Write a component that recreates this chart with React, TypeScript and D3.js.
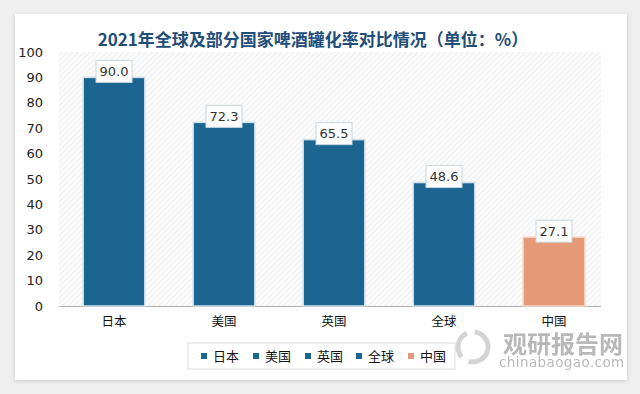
import React from 'react'
import * as d3 from 'd3'

const categories = ['日本', '美国', '英国', '全球', '中国']
const values = [90.0, 72.3, 65.5, 48.6, 27.1]
const yTicks = [0, 10, 20, 30, 40, 50, 60, 70, 80, 90, 100]
const title = '2021年全球及部分国家啤酒罐化率对比情况（单位：%）'

const W = 640
const H = 394
const plot = { left: 59, right: 609, top: 52, bottom: 306 }
const blue = '#1b6590'
const orange = '#e59a77'

const App = () => {
  const x = d3.scaleBand().domain(categories).range([plot.left, plot.right])
    .paddingInner(0.44).paddingOuter(0.22)
  const y = d3.scaleLinear().domain([0, 100]).range([plot.bottom, plot.top])
  const colorOf = (c: string) => (c === '中国' ? orange : blue)
  const legendX = [201, 253, 305, 356, 408]

  return (
    <svg width={W} height={H} style={{ position: 'absolute', left: 0, top: 0 }}
      fontFamily="'DejaVu Sans', 'Noto Sans CJK SC', sans-serif">
      <defs>
        <pattern id="hatch" width="4" height="4" patternUnits="userSpaceOnUse" patternTransform="rotate(45)">
          <rect width="4" height="4" fill="#fbfbfb" />
          <line x1="0" y1="0" x2="0" y2="4" stroke="#e6e6e6" strokeWidth="1.2" />
        </pattern>
        <filter id="shadow" x="-5%" y="-5%" width="110%" height="110%">
          <feDropShadow dx="0" dy="1" stdDeviation="2" floodColor="#000" floodOpacity="0.15" />
        </filter>
      </defs>
      <rect width={W} height={H} fill="#efefef" />
      <rect x={15} y={14} width={612} height={366} fill="#fff" filter="url(#shadow)" />
      <text x={313} y={46} textAnchor="middle" fontSize={17} fontWeight="bold" fill="#1f4e79"
        fontFamily="'Noto Sans CJK SC', serif">{title}</text>

      <rect x={plot.left} y={plot.top} width={plot.right - plot.left - 8} height={plot.bottom - plot.top} fill="url(#hatch)" />
      <line x1={plot.left} x2={plot.right - 8} y1={plot.bottom + 0.5} y2={plot.bottom + 0.5} stroke="#b0b0b0" />

      {yTicks.map(t => (
        <text key={t} x={43} y={y(t)} dy="0.35em" textAnchor="end" fontSize={13} fill="#222">{t}</text>
      ))}

      {categories.map((c, i) => {
        const bx = x(c)!
        const bw = x.bandwidth()
        const top = y(values[i])
        const cx = bx + bw / 2
        return (
          <g key={c}>
            <rect x={bx} y={top} width={bw} height={plot.bottom - top} fill={colorOf(c)}
              stroke={c === '中国' ? '#f4d2c2' : '#cfe0ec'} strokeWidth={1.5} />
            <rect x={cx - 18} y={top - 17} width={36} height={22} fill="#fff" stroke="#c8d6e0" strokeWidth={1} />
            <text x={cx} y={top - 6} dy="0.35em" textAnchor="middle" fontSize={13} fill="#333">{values[i].toFixed(1)}</text>
            <text x={cx} y={322} dy="0.35em" textAnchor="middle" fontSize={12.5} fill="#111"
              fontFamily="'Noto Sans CJK SC', sans-serif">{c}</text>
          </g>
        )
      })}

      <rect x={188} y={343} width={267} height={26} fill="#fff" stroke="#dcdcdc" />
      {categories.map((c, i) => (
        <g key={'lg' + c}>
          <rect x={legendX[i]} y={353} width={6} height={6} fill={colorOf(c)} />
          <text x={legendX[i] + 12} y={356} dy="0.35em" fontSize={13} fill="#111"
            fontFamily="'Noto Sans CJK SC', sans-serif">{c}</text>
        </g>
      ))}

      <g opacity={0.6}>
        <circle cx={473} cy={347} r={15} fill="none" stroke="#b8b8b8" strokeWidth={5} strokeDasharray="28 8" />
        <text x={503} y={353} fontSize={24} fontWeight="bold" fill="#8a8a8a"
          fontFamily="'Noto Sans CJK SC', sans-serif">观研报告网</text>
        <text x={499} y={367} fontSize={13.5} fill="#8a8a8a" letterSpacing="0.4">chinabaogao.com</text>
      </g>
    </svg>
  )
}

export default App
